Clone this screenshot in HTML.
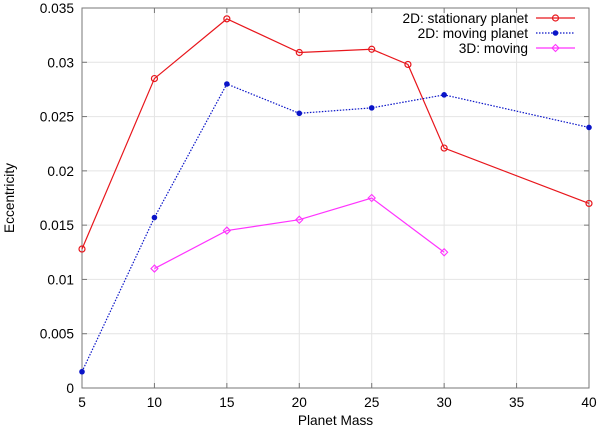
<!DOCTYPE html>
<html><head><meta charset="utf-8"><style>
body{margin:0;background:#fff}
svg text{font-family:"Liberation Sans",sans-serif;font-size:13.7px;fill:#000}
</style></head><body>
<svg id="chart" width="600" height="430" xmlns="http://www.w3.org/2000/svg"></svg>
<script>
const xTicks=[5,10,15,20,25,30,35,40];
const yTicks=[0,0.005,0.01,0.015,0.02,0.025,0.03,0.035];
const yTickLabels=["0","0.005","0.01","0.015","0.02","0.025","0.03","0.035"];
const redX=[5,10,15,20,25,27.5,30,40];
const redY=[0.0128,0.0285,0.034,0.0309,0.0312,0.0298,0.0221,0.017];
const blueX=[5,10,15,20,25,30,40];
const blueY=[0.0015,0.0157,0.028,0.0253,0.0258,0.027,0.024];
const magX=[10,15,20,25,30];
const magY=[0.011,0.0145,0.0155,0.0175,0.0125];
const seriesNames=["2D: stationary planet","2D: moving planet","3D: moving"];

const L=82,R=589,T=8,B=388;
const sx=v=>L+(v-5)/35*(R-L);
const sy=v=>B-v/0.035*(B-T);
const svg=document.getElementById('chart');
const NS="http://www.w3.org/2000/svg";
function mk(tag,attrs,parent){const e=document.createElementNS(NS,tag);for(const k in attrs)e.setAttribute(k,attrs[k]);(parent||svg).appendChild(e);return e;}

const grid=mk('g',{});


xTicks.forEach(t=>{mk('line',{x1:sx(t),x2:sx(t),y1:T,y2:B,stroke:'#e4e4e4','stroke-width':1},grid);});
yTicks.forEach(t=>{mk('line',{x1:L,x2:R,y1:sy(t),y2:sy(t),stroke:'#e4e4e4','stroke-width':1},grid);});

const frame=mk('rect',{x:L,y:T,width:R-L,height:B-T,fill:'none',stroke:'#777','stroke-width':1});



xTicks.forEach(t=>{
  mk('line',{x1:sx(t),x2:sx(t),y1:B,y2:B-5,stroke:'#777'});
  mk('line',{x1:sx(t),x2:sx(t),y1:T,y2:T+5,stroke:'#777'});
  const tx=mk('text',{x:sx(t),y:B+19,'text-anchor':'middle'});tx.textContent=t;
  
  
});
yTicks.forEach((t,i)=>{
  mk('line',{x1:L,x2:L+5,y1:sy(t),y2:sy(t),stroke:'#777'});
  mk('line',{x1:R,x2:R-5,y1:sy(t),y2:sy(t),stroke:'#777'});
  const tx=mk('text',{x:L-8,y:sy(t)+5,'text-anchor':'end'});tx.textContent=yTickLabels[i];
  
  
});
const xt=mk('text',{x:(L+R)/2,y:425,'text-anchor':'middle'});xt.textContent='Planet Mass';


const yt=mk('text',{x:0,y:0,'text-anchor':'middle',transform:`translate(14,${(T+B)/2}) rotate(-90)`});yt.textContent='Eccentricity';



function marker(kind,x,y,color,g){
  if(kind==='circle')mk('circle',{cx:x,cy:y,r:3,fill:'none',stroke:color,'stroke-width':1.2},g);
  else if(kind==='dot')mk('circle',{cx:x,cy:y,r:2.8,fill:color},g);
  else mk('path',{d:`M${x} ${y-3.5}L${x+3.5} ${y}L${x} ${y+3.5}L${x-3.5} ${y}Z`,fill:'none',stroke:color,'stroke-width':1.1},g);
}
function series(xs,ys,color,dash,kind,name,li){
  const g=mk('g',{});
  
  
  const pts=xs.map((x,i)=>sx(x)+','+sy(ys[i])).join(' ');
  const a={points:pts,fill:'none',stroke:color,'stroke-width':1.2};
  if(dash)a['stroke-dasharray']=dash;
  mk('polyline',a,g);
  xs.forEach((x,i)=>marker(kind,sx(x),sy(ys[i]),color,g));
  const ly=18+li*15;
  const lg=mk('g',{});
  
  
  const t=mk('text',{x:528,y:ly+5,'text-anchor':'end'},lg);t.textContent=seriesNames[li];
  const la={x1:536,x2:575,y1:ly,y2:ly,stroke:color,'stroke-width':1.2};if(dash)la['stroke-dasharray']=dash;
  mk('line',la,lg);
  marker(kind,555.5,ly,color,lg);
}
series(redX,redY,'#e8161c',null,'circle','series-2d-stationary',0);
series(blueX,blueY,'#0a14c8','1.5,1.5','dot','series-2d-moving',1);
series(magX,magY,'#ff33ff',null,'diamond','series-3d-moving',2);
</script>
</body></html>
